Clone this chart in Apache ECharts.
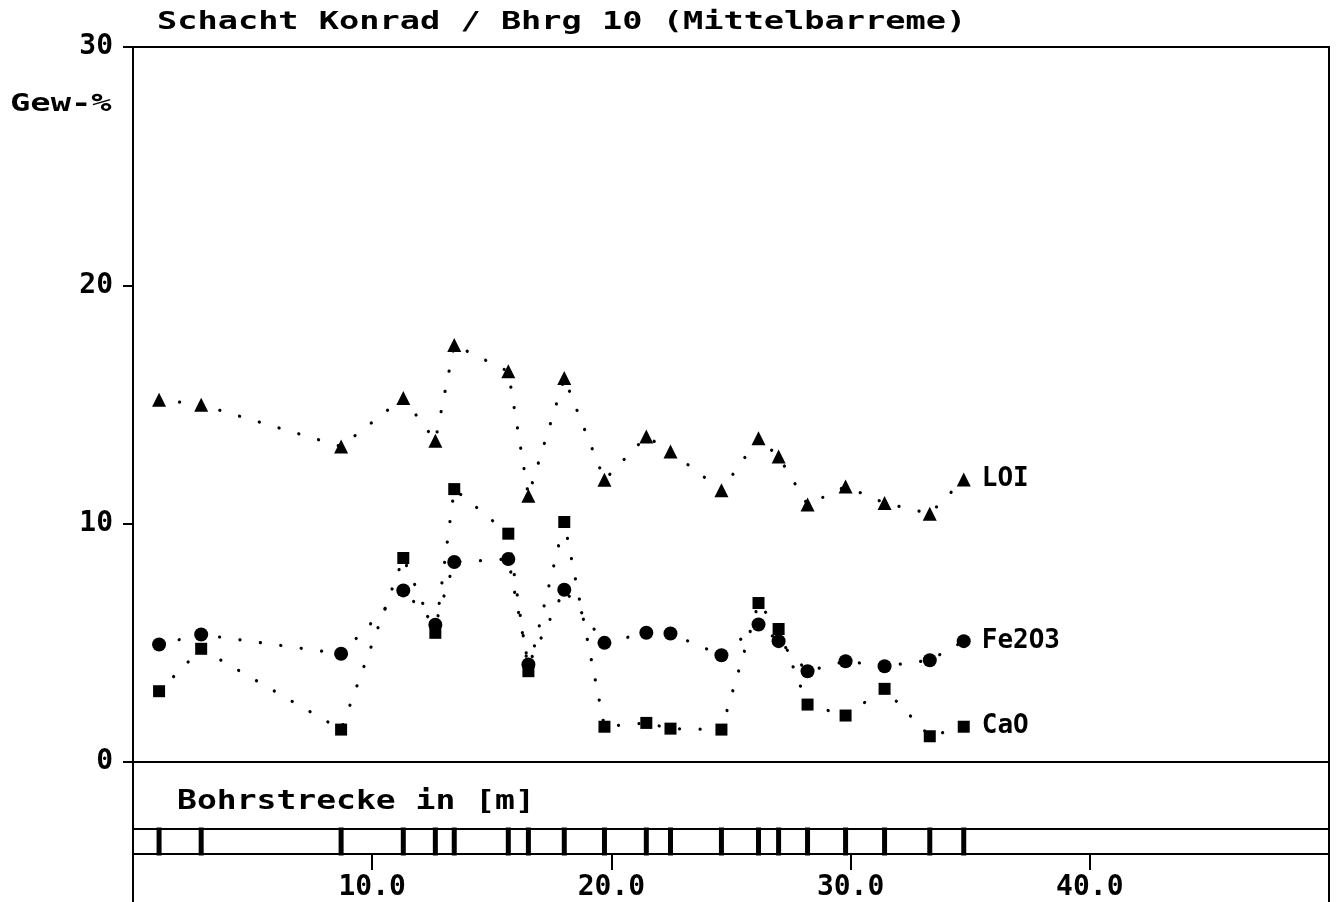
<!DOCTYPE html>
<html>
<head>
<meta charset="utf-8">
<script src="https://cdn.jsdelivr.net/npm/echarts@6/dist/echarts.min.js"></script>
<style>html,body{margin:0;padding:0;background:#fff}#c{width:1338px;height:902px}</style>
</head>
<body>
<div id="c"></div>
<script>
// Bohrstrecke (m) of samples
const depth = [1.09, 2.85, 8.70, 11.30, 12.64, 13.43, 15.69, 16.53, 18.03, 19.71,
               21.46, 22.47, 24.60, 26.15, 26.99, 28.20, 29.79, 31.42, 33.31, 34.73];
// Gew-%
const loi   = [15.20, 14.99, 13.24, 15.27, 13.48, 17.50, 16.39, 11.17, 16.11, 11.84,
               13.66, 13.03, 11.40, 13.58, 12.82, 10.80, 11.56, 10.87, 10.42, 11.85];
const fe2o3 = [4.93, 5.35, 4.54, 7.20, 5.76, 8.39, 8.52, 4.09, 7.23, 5.00,
               5.42, 5.39, 4.48, 5.77, 5.07, 3.81, 4.23, 4.02, 4.27, 5.07];
const cao   = [2.97, 4.75, 1.36, 8.56, 5.42, 11.45, 9.58, 3.81, 10.07, 1.48,
               1.64, 1.40, 1.36, 6.67, 5.58, 2.41, 1.95, 3.07, 1.08, 1.48];
const seriesNames = ['LOI', 'Fe2O3', 'CaO'];
const titleText = 'Schacht Konrad / Bhrg 10 (Mittelbarreme)';
const yUnit = 'Gew-%';
const xName = 'Bohrstrecke in [m]';

const FONT = '"DejaVu Sans Mono", monospace';
const W = 'bold';
const pairs = arr => depth.map((d, i) => [d, arr[i]]);

function lineSeries(name, arr, symbol, size) {
  return {
    type: 'line', name: name, xAxisIndex: 0, yAxisIndex: 0,
    data: pairs(arr), symbol: symbol, symbolSize: size, showSymbol: true,
    itemStyle: { color: '#000', opacity: 1 },
    lineStyle: { color: '#000', width: 3.2, type: [0.1, 20.5], cap: 'round' },
    endLabel: { show: true, formatter: name, distance: 18, color: '#000',
                fontFamily: FONT, fontSize: 26, fontWeight: W },
    emphasis: { disabled: true }, silent: true
  };
}

const chart = echarts.init(document.getElementById('c'), null, { renderer: 'canvas' });
chart.setOption({
  animation: false,
  backgroundColor: '#fff',
  grid: [
    { left: 133, right: 9, top: 47, height: 715, show: true, borderColor: '#000', borderWidth: 2, backgroundColor: 'transparent' },
    { left: 133, right: 9, top: 829, height: 28, show: true, borderColor: '#000', borderWidth: 2, backgroundColor: 'transparent' }
  ],
  xAxis: [
    { gridIndex: 0, type: 'value', min: 0, max: 50, interval: 10, show: false },
    { gridIndex: 1, type: 'value', min: 0, max: 50, interval: 10, position: 'bottom',
      axisLine: { show: true, lineStyle: { color: '#000', width: 2 } },
      axisTick: { show: true, length: 16, lineStyle: { color: '#000', width: 2 } },
      splitLine: { show: false },
      axisLabel: { show: true, margin: 20, color: '#000', fontFamily: FONT, fontSize: 28, fontWeight: W,
                   showMinLabel: false, showMaxLabel: false,
                   formatter: v => v.toFixed(1) } }
  ],
  yAxis: [
    { gridIndex: 0, type: 'value', min: 0, max: 30, interval: 10,
      axisLine: { show: true, lineStyle: { color: '#000', width: 2 } },
      axisTick: { show: true, length: 10, lineStyle: { color: '#000', width: 2 } },
      splitLine: { show: false },
      axisLabel: { margin: 20, color: '#000', fontFamily: FONT, fontSize: 28, fontWeight: W } },
    { gridIndex: 1, type: 'value', min: 0, max: 1, show: false }
  ],
  graphic: [
    { type: 'rect', shape: { x: 133, y: 762, width: 1196, height: 170 },
      style: { fill: 'none', stroke: '#000', lineWidth: 2 }, silent: true },
    { type: 'text', x: 157, y: 23, scaleX: 1.40,
      style: { text: titleText, font: W + ' 24px ' + FONT, fill: '#000', align: 'left', verticalAlign: 'middle' } },
    { type: 'text', x: 10, y: 104, scaleX: 1.35,
      style: { text: yUnit, font: W + ' 25px ' + FONT, fill: '#000', align: 'left', verticalAlign: 'middle' } },
    { type: 'text', x: 177, y: 802, scaleX: 1.27,
      style: { text: xName, font: W + ' 26px ' + FONT, fill: '#000', align: 'left', verticalAlign: 'middle' } }
  ],
  series: [
    lineSeries(seriesNames[0], loi, 'triangle', 14),
    lineSeries(seriesNames[1], fe2o3, 'circle', 14),
    lineSeries(seriesNames[2], cao, 'rect', 12),
    { type: 'scatter', xAxisIndex: 1, yAxisIndex: 1, silent: true,
      data: depth.map(d => [d, 0.5]), symbol: 'rect', symbolSize: [5, 28],
      itemStyle: { color: '#000', opacity: 1 } }
  ]
});
</script>
</body>
</html>
